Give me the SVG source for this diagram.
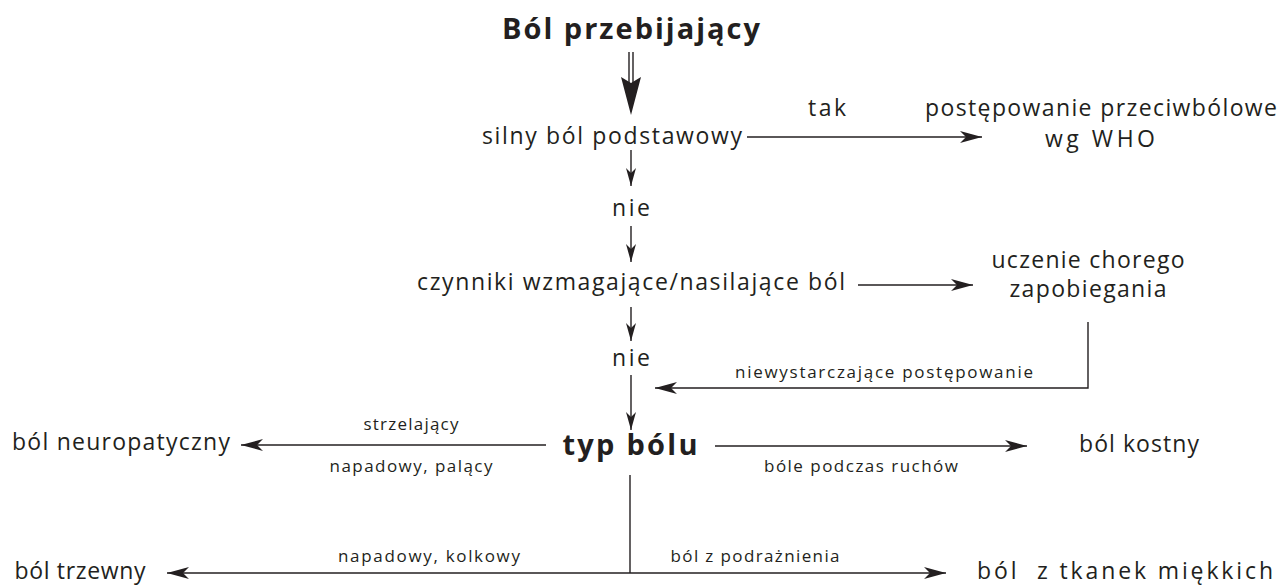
<svg xmlns="http://www.w3.org/2000/svg" width="1281" height="586" viewBox="0 0 1281 586">
<style>
text{font-family:"Open Sans","Noto Sans","DejaVu Sans",sans-serif;fill:#231f20;text-anchor:middle}
.m{font-size:23px}
.s{font-size:17px}
.b{font-size:29px;font-weight:bold}
.ln{stroke:#231f20;stroke-width:1.4;fill:none}
</style>
<defs>
<marker id="ar" markerUnits="userSpaceOnUse" markerWidth="24" markerHeight="14" refX="22" refY="6" orient="auto">
<path d="M0,0 L22,6 L0,12 L6,6 Z" fill="#231f20"/>
</marker>
<marker id="ars" markerUnits="userSpaceOnUse" markerWidth="24" markerHeight="14" refX="22" refY="6" orient="auto-start-reverse">
<path d="M0,0 L22,6 L0,12 L6,6 Z" fill="#231f20"/>
</marker>
<marker id="av" markerUnits="userSpaceOnUse" markerWidth="20" markerHeight="12" refX="18" refY="5" orient="auto">
<path d="M0,0 L18,5 L0,10 L5,5 Z" fill="#231f20"/>
</marker>
</defs>
<rect width="1281" height="586" fill="#fff"/>
<g id="connectors">
<line class="ln" x1="629" y1="52" x2="629" y2="84"/>
<line class="ln" x1="633" y1="52" x2="633" y2="84"/>
<polygon points="621,77 631,83 641,77 631,115" fill="#231f20"/>
<line class="ln" x1="747" y1="137" x2="982" y2="137" marker-end="url(#ar)"/>
<line class="ln" x1="631" y1="150" x2="631" y2="186" marker-end="url(#av)"/>
<line class="ln" x1="631" y1="226" x2="631" y2="262" marker-end="url(#av)"/>
<line class="ln" x1="858" y1="285" x2="973" y2="285" marker-end="url(#ar)"/>
<line class="ln" x1="631" y1="307" x2="631" y2="341" marker-end="url(#av)"/>
<polyline class="ln" points="1088,322 1088,388 655,388" marker-end="url(#ar)"/>
<line class="ln" x1="631" y1="375" x2="631" y2="430" marker-end="url(#av)"/>
<line class="ln" x1="546" y1="445" x2="241" y2="445" marker-end="url(#ar)"/>
<line class="ln" x1="715" y1="446" x2="1027" y2="446" marker-end="url(#ar)"/>
<line class="ln" x1="630" y1="475" x2="630" y2="573"/>
<line class="ln" x1="167" y1="573" x2="946" y2="573" marker-start="url(#ars)" marker-end="url(#ar)"/>
</g>
<g id="n-title"><text class="b" x="631" y="39" textLength="258" lengthAdjust="spacing">Ból przebijający</text></g>
<g id="n-silny"><text class="m" x="612" y="144" textLength="260" lengthAdjust="spacing">silny ból podstawowy</text></g>
<g id="n-tak"><text class="m" x="827" y="116" textLength="38" lengthAdjust="spacing">tak</text></g>
<g id="n-who"><text class="m" x="1101" y="116" textLength="352" lengthAdjust="spacing">postępowanie przeciwbólowe</text><text class="m" x="1100" y="147" textLength="110" lengthAdjust="spacing">wg WHO</text></g>
<g id="n-nie1"><text class="m" x="631" y="216" textLength="38" lengthAdjust="spacing">nie</text></g>
<g id="n-czynniki"><text class="m" x="631" y="290" textLength="428" lengthAdjust="spacing">czynniki wzmagające/nasilające ból</text></g>
<g id="n-uczenie"><text class="m" x="1088" y="268" textLength="193" lengthAdjust="spacing">uczenie chorego</text><text class="m" x="1088" y="297" textLength="157" lengthAdjust="spacing">zapobiegania</text></g>
<g id="n-nie2"><text class="m" x="631" y="366" textLength="38" lengthAdjust="spacing">nie</text></g>
<g id="n-niewystarczajace"><text class="s" x="884" y="378" textLength="298" lengthAdjust="spacing">niewystarczające postępowanie</text></g>
<g id="n-typ"><text class="b" x="630" y="455" textLength="135" lengthAdjust="spacing">typ bólu</text></g>
<g id="n-neuro"><text class="m" x="121" y="450" textLength="218" lengthAdjust="spacing">ból neuropatyczny</text></g>
<g id="n-strzel"><text class="s" x="411" y="430" textLength="95" lengthAdjust="spacing">strzelający</text><text class="s" x="411" y="472" textLength="163" lengthAdjust="spacing">napadowy, palący</text></g>
<g id="n-kostny"><text class="m" x="1139" y="452" textLength="120" lengthAdjust="spacing">ból kostny</text></g>
<g id="n-ruchow"><text class="s" x="861" y="472" textLength="194" lengthAdjust="spacing">bóle podczas ruchów</text></g>
<g id="n-trzewny"><text class="m" x="80" y="579" textLength="131" lengthAdjust="spacing">ból trzewny</text></g>
<g id="n-kolkowy"><text class="s" x="429" y="562" textLength="182" lengthAdjust="spacing">napadowy, kolkowy</text></g>
<g id="n-podraz"><text class="s" x="755" y="562" textLength="169" lengthAdjust="spacing">ból z podrażnienia</text></g>
<g id="n-tkanek"><text class="m" x="1125" y="579" textLength="296" lengthAdjust="spacing" xml:space="preserve">ból  z tkanek miękkich</text></g>
</svg>
